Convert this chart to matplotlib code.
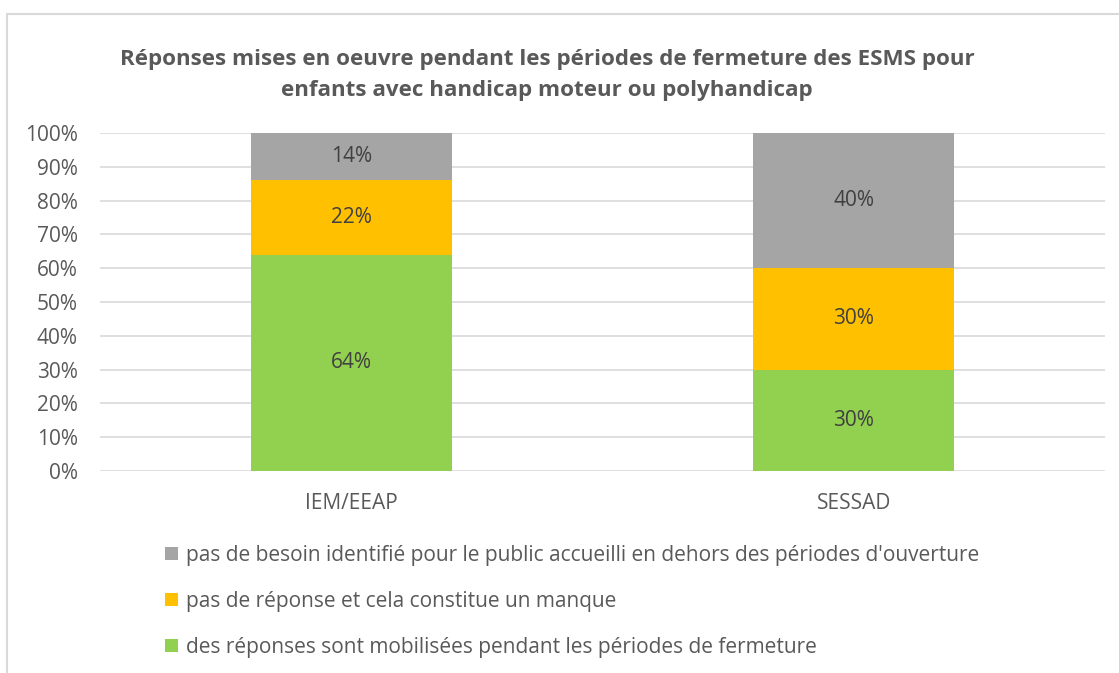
import matplotlib
matplotlib.use("Agg")
import matplotlib.pyplot as plt
from matplotlib.patches import Rectangle

# Données
categories = ["IEM/EEAP", "SESSAD"]
reponses_mobilisees = [64, 30]
pas_de_reponse = [22, 30]
pas_de_besoin = [14, 40]

labels_series = [
    "des réponses sont mobilisées pendant les périodes de fermeture",
    "pas de réponse et cela constitue un manque",
    "pas de besoin identifié pour le public accueilli en dehors des périodes d'ouverture",
]
couleurs = ["#92D050", "#FFC000", "#A5A5A5"]
titre = ("Réponses mises en oeuvre pendant les périodes de fermeture des ESMS pour\n"
         "enfants avec handicap moteur ou polyhandicap")

texte_gris = "#595959"
plt.rcParams["font.family"] = ["Open Sans", "DejaVu Sans"]

fig = plt.figure(figsize=(11.19, 6.73), dpi=100)
ax = fig.add_axes([0.0894, 0.3002, 0.8981, 0.5022])

# cadre du graphique (coupé à droite et en bas)
fig.patches.append(Rectangle((7 / 1119, -0.1), 1.2, 1 - 14 / 673 + 0.1,
                             transform=fig.transFigure, fill=False,
                             edgecolor="#D9D9D9", linewidth=1.5))

x = range(len(categories))
series = [reponses_mobilisees, pas_de_reponse, pas_de_besoin]
bas = [0] * len(categories)
for valeurs, couleur, label in zip(series, couleurs, labels_series):
    barres = ax.bar(x, valeurs, 0.4, bottom=bas, color=couleur, label=label, zorder=3)
    for b, v, y0 in zip(barres, valeurs, bas):
        ax.text(b.get_x() + b.get_width() / 2, y0 + v / 2, f"{v}%",
                ha="center", va="center", fontsize=15, color="#404040", zorder=4)
    bas = [a + v for a, v in zip(bas, valeurs)]

ax.set_xlim(-0.5, 1.5)
ax.set_ylim(0, 100)
ax.set_yticks(range(0, 101, 10))
ax.set_yticklabels([f"{t}%" for t in range(0, 101, 10)])
ax.set_xticks(list(x))
ax.set_xticklabels(categories)
ax.tick_params(axis="both", length=0, labelsize=15, colors=texte_gris)
ax.tick_params(axis="x", pad=16)
ax.tick_params(axis="y", pad=16)
ax.grid(axis="y", color="#D9D9D9", linewidth=1.2, zorder=0)
for s in ax.spines.values():
    s.set_visible(False)

fig.text(0.489, 0.888, titre, ha="center", va="center", fontsize=16.1,
         fontweight="bold", color=texte_gris, linespacing=1.62)

handles, labels = ax.get_legend_handles_labels()
leg = fig.legend(handles[::-1], labels[::-1], loc="upper left",
                 bbox_to_anchor=(0.131, 0.218), frameon=False, fontsize=15,
                 handlelength=0.62, handleheight=0.62, handletextpad=0.35,
                 labelspacing=1.2, labelcolor=texte_gris)

fig.savefig("out.png", dpi=100)
